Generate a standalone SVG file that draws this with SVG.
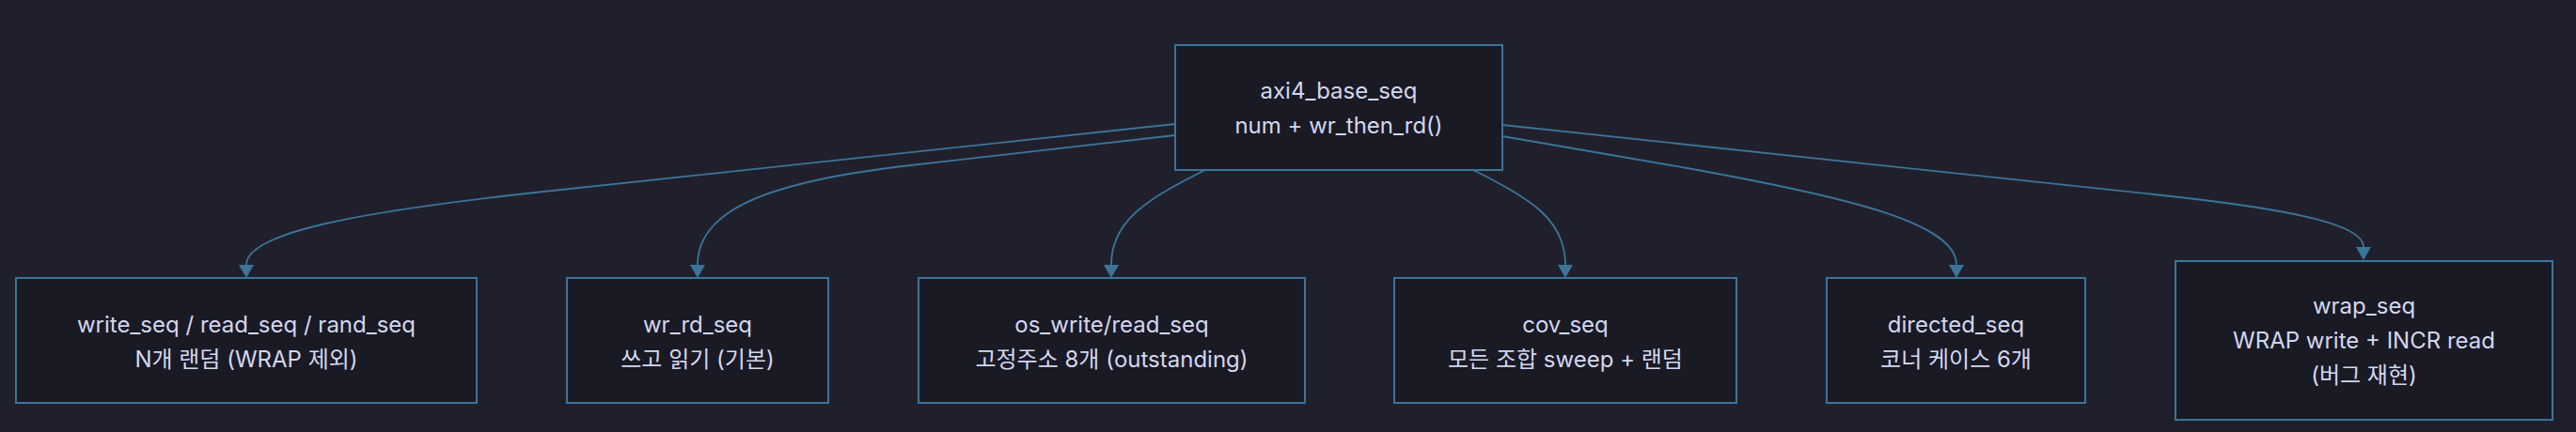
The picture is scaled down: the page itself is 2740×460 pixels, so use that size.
<svg xmlns="http://www.w3.org/2000/svg" width="2740" height="460" viewBox="0 0 2740 460">
<defs>
<style>
.node rect{fill:#1a1a24;stroke:#3b7499;stroke-width:2}
.node text{font-family:Inter,"Noto Sans CJK KR",sans-serif;font-size:24px;fill:#d2d7f0;text-anchor:middle}
.edges path{fill:none;stroke:#3b7499;stroke-width:1.8}
</style>
<marker id="arrow" markerUnits="userSpaceOnUse" markerWidth="16" markerHeight="16" refX="0" refY="8" orient="auto" viewBox="0 0 14 16">
<path d="M0,0 L14,8 L0,16 z" fill="#3b7499"/>
</marker>
</defs>
<rect x="0" y="0" width="2740" height="460" fill="#20202c"/>
<g class="edges">
<path d="M1250,132 L560,206 C380,226 262,248 262,282" marker-end="url(#arrow)"/>
<path d="M1250,144 L960,177 C800,196 742,230 742,282" marker-end="url(#arrow)"/>
<path d="M1282,181 C1220,212 1182,235 1182,282" marker-end="url(#arrow)"/>
<path d="M1567,181 C1630,212 1665,235 1665,282" marker-end="url(#arrow)"/>
<path d="M1598,145 L1800,180 C1970,211 2081,238 2081,282" marker-end="url(#arrow)"/>
<path d="M1598,133 L2300,208 C2430,222 2514,238 2514,263" marker-end="url(#arrow)"/>
</g>
<g id="base" class="node">
<rect x="1250" y="48" width="348" height="133"/>
<text x="1424" y="105">axi4_base_seq</text>
<text x="1424" y="142">num + wr_then_rd()</text>
</g>
<g id="rw" class="node">
<rect x="17" y="296" width="490" height="133"/>
<text x="262" y="354">write_seq / read_seq / rand_seq</text>
<text x="262" y="391">N개 랜덤 (WRAP 제외)</text>
</g>
<g id="wrrd" class="node">
<rect x="603" y="296" width="278" height="133"/>
<text x="742" y="354">wr_rd_seq</text>
<text x="742" y="391">쓰고 읽기 (기본)</text>
</g>
<g id="os" class="node">
<rect x="977" y="296" width="411" height="133"/>
<text x="1182.5" y="354">os_write/read_seq</text>
<text x="1182.5" y="391">고정주소 8개 (outstanding)</text>
</g>
<g id="cov" class="node">
<rect x="1483" y="296" width="364" height="133"/>
<text x="1665" y="354">cov_seq</text>
<text x="1665" y="391">모든 조합 sweep + 랜덤</text>
</g>
<g id="directed" class="node">
<rect x="1943" y="296" width="275" height="133"/>
<text x="2080.5" y="354">directed_seq</text>
<text x="2080.5" y="391">코너 케이스 6개</text>
</g>
<g id="wrap" class="node">
<rect x="2314" y="278" width="401" height="169"/>
<text x="2514.5" y="334">wrap_seq</text>
<text x="2514.5" y="371">WRAP write + INCR read</text>
<text x="2514.5" y="408">(버그 재현)</text>
</g>
</svg>
